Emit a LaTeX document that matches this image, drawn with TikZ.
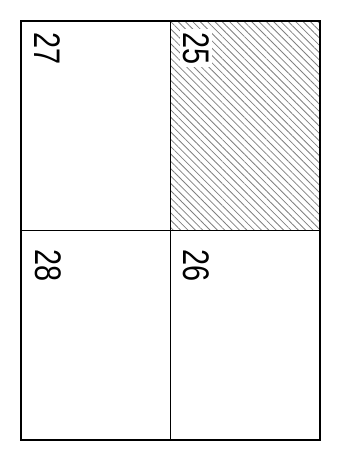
\documentclass[tikz,border=0pt]{standalone}
\usepackage{fontspec}
\setmainfont{Liberation Sans}
\usetikzlibrary{patterns.meta}
\begin{document}
\begin{tikzpicture}[x=1pt,y=-1pt,
  cellline/.style={line width=1.7pt, draw=black},
  hatchfill/.style={pattern={Lines[angle=-45,distance=5.2pt,line width=0.8pt]}, pattern color=black!50},
  num/.style={rotate=-90, anchor=base west, inner sep=3pt, fill=white,
    font=\fontsize{37}{40}\selectfont}]
\useasboundingbox (0,0) rectangle (338,476);
\fill[hatchfill] (170.5,21) rectangle (320,230.5);
\coordinate (tl) at (21,21);
\coordinate (br) at (320,440);
\draw[cellline] (tl) rectangle (br);
\draw[cellline] (170.5,21) -- (170.5,440);
\draw[cellline] (21,230.5) -- (320,230.5);
\node[num] (n27) at (34,29) {\scalebox{0.78}[1]{27}};
\node[num] (n25) at (183,29) {\scalebox{0.78}[1]{25}};
\node[num] (n28) at (35,246) {\scalebox{0.78}[1]{28}};
\node[num] (n26) at (183,246) {\scalebox{0.78}[1]{26}};
\end{tikzpicture}
\end{document}
